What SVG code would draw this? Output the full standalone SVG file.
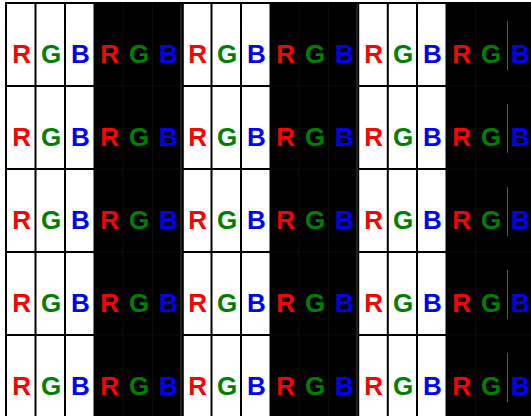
<svg xmlns="http://www.w3.org/2000/svg" width="531" height="416" viewBox="0 0 531 416">
<style>
.blk{fill:#000}
.grid{stroke:#000;stroke-width:2;fill:none}
.faint{stroke:#0b0b0b;stroke-width:1;fill:none}
.grey{stroke:#404040;stroke-width:1;fill:none}
.mid{stroke:#5a5a5a;stroke-width:1;fill:none}
text{font-family:"Liberation Sans",Arial,sans-serif;font-weight:bold;font-size:26px;text-anchor:middle}
.r{fill:#ff0000}.g{fill:#008000}.b{fill:#0000ff}
</style>
<rect width="531" height="416" fill="#fff"/>
<g id="dark-columns">
<rect class="blk" x="93.5" y="2" width="89" height="414"/>
<rect class="blk" x="269.5" y="2" width="89" height="414"/>
<rect class="blk" x="445.5" y="2" width="86" height="414"/>
</g>
<g id="grid-lines">
<path class="faint" d="M123 2V416M152.5 2V416M299 2V416M328.5 2V416M475.5 2V416M94 86H182M94 169H182M94 252H182M94 335H182M270 86H358M270 169H358M270 252H358M270 335H358M446 86H531M446 169H531M446 252H531M446 335H531"/>
<path class="grid" d="M6 3H94M182 3H270M358 3H446M6 86H94M182 86H270M358 86H446M6 169H94M182 169H270M358 169H446M6 252H94M182 252H270M358 252H446M6 335H94M182 335H270M358 335H446"/>
<path class="grid" d="M6 2V416M35.5 2V416M65 2V416M182.8 2V416M211.5 2V416M241 2V416M358.2 2V416M387.8 2V416M417 2V416"/>
<path class="grey" d="M181 4V416M357 4V416"/>
<path class="mid" d="M507.5 21V70M507.5 104V153M507.5 187V236M507.5 270V319M507.5 353V402"/>
</g>
<g id="row1">
<text class="r" x="21.7" y="63">R</text><text class="g" x="51" y="63">G</text><text class="b" x="80.4" y="63">B</text>
<text class="r" x="109.7" y="63">R</text><text class="g" x="139" y="63">G</text><text class="b" x="168.4" y="63">B</text>
<text class="r" x="197.7" y="63">R</text><text class="g" x="227" y="63">G</text><text class="b" x="256.4" y="63">B</text>
<text class="r" x="285.7" y="63">R</text><text class="g" x="315" y="63">G</text><text class="b" x="344.4" y="63">B</text>
<text class="r" x="373.7" y="63">R</text><text class="g" x="403" y="63">G</text><text class="b" x="432.4" y="63">B</text>
<text class="r" x="461.7" y="63">R</text><text class="g" x="491" y="63">G</text><text class="b" x="520.4" y="63">B</text>
</g>
<g id="row2">
<text class="r" x="21.7" y="146">R</text><text class="g" x="51" y="146">G</text><text class="b" x="80.4" y="146">B</text>
<text class="r" x="109.7" y="146">R</text><text class="g" x="139" y="146">G</text><text class="b" x="168.4" y="146">B</text>
<text class="r" x="197.7" y="146">R</text><text class="g" x="227" y="146">G</text><text class="b" x="256.4" y="146">B</text>
<text class="r" x="285.7" y="146">R</text><text class="g" x="315" y="146">G</text><text class="b" x="344.4" y="146">B</text>
<text class="r" x="373.7" y="146">R</text><text class="g" x="403" y="146">G</text><text class="b" x="432.4" y="146">B</text>
<text class="r" x="461.7" y="146">R</text><text class="g" x="491" y="146">G</text><text class="b" x="520.4" y="146">B</text>
</g>
<g id="row3">
<text class="r" x="21.7" y="229">R</text><text class="g" x="51" y="229">G</text><text class="b" x="80.4" y="229">B</text>
<text class="r" x="109.7" y="229">R</text><text class="g" x="139" y="229">G</text><text class="b" x="168.4" y="229">B</text>
<text class="r" x="197.7" y="229">R</text><text class="g" x="227" y="229">G</text><text class="b" x="256.4" y="229">B</text>
<text class="r" x="285.7" y="229">R</text><text class="g" x="315" y="229">G</text><text class="b" x="344.4" y="229">B</text>
<text class="r" x="373.7" y="229">R</text><text class="g" x="403" y="229">G</text><text class="b" x="432.4" y="229">B</text>
<text class="r" x="461.7" y="229">R</text><text class="g" x="491" y="229">G</text><text class="b" x="520.4" y="229">B</text>
</g>
<g id="row4">
<text class="r" x="21.7" y="312">R</text><text class="g" x="51" y="312">G</text><text class="b" x="80.4" y="312">B</text>
<text class="r" x="109.7" y="312">R</text><text class="g" x="139" y="312">G</text><text class="b" x="168.4" y="312">B</text>
<text class="r" x="197.7" y="312">R</text><text class="g" x="227" y="312">G</text><text class="b" x="256.4" y="312">B</text>
<text class="r" x="285.7" y="312">R</text><text class="g" x="315" y="312">G</text><text class="b" x="344.4" y="312">B</text>
<text class="r" x="373.7" y="312">R</text><text class="g" x="403" y="312">G</text><text class="b" x="432.4" y="312">B</text>
<text class="r" x="461.7" y="312">R</text><text class="g" x="491" y="312">G</text><text class="b" x="520.4" y="312">B</text>
</g>
<g id="row5">
<text class="r" x="21.7" y="395">R</text><text class="g" x="51" y="395">G</text><text class="b" x="80.4" y="395">B</text>
<text class="r" x="109.7" y="395">R</text><text class="g" x="139" y="395">G</text><text class="b" x="168.4" y="395">B</text>
<text class="r" x="197.7" y="395">R</text><text class="g" x="227" y="395">G</text><text class="b" x="256.4" y="395">B</text>
<text class="r" x="285.7" y="395">R</text><text class="g" x="315" y="395">G</text><text class="b" x="344.4" y="395">B</text>
<text class="r" x="373.7" y="395">R</text><text class="g" x="403" y="395">G</text><text class="b" x="432.4" y="395">B</text>
<text class="r" x="461.7" y="395">R</text><text class="g" x="491" y="395">G</text><text class="b" x="520.4" y="395">B</text>
</g>
</svg>
